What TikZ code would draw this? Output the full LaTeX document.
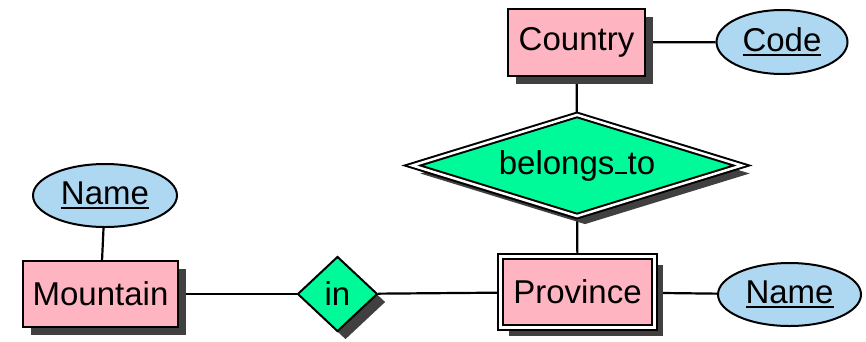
\documentclass[tikz,border=0pt]{standalone}
\usepackage{fontspec}
\setmainfont{Liberation Sans}
\usetikzlibrary{shapes.geometric,shadows,backgrounds}
\definecolor{entpink}{RGB}{255,180,193}
\definecolor{attblue}{RGB}{174,216,242}
\definecolor{relgreen}{RGB}{0,250,154}
\definecolor{shadowgray}{RGB}{64,64,64}
\newcommand\keyul[1]{\setbox0\hbox{#1}\rlap{\rule[-4.5pt]{\wd0}{1.8pt}}\box0}
\newcommand\ulbar{\kern0.02em\rule{0.36em}{0.06em}\kern0.02em}
\begin{document}
\begin{tikzpicture}[x=1pt,y=-1pt,
  base/.style={draw=black, line width=2pt, inner sep=0pt, font=\fontsize{33}{39}\selectfont},
  shade/.style={drop shadow={shadow xshift=8pt,shadow yshift=-8pt,fill=shadowgray,opacity=1}},
  entity/.style={base, rectangle, fill=entpink, shade},
  weakentity/.style={entity, double, double distance=2.5pt, line width=2pt},
  attr/.style={base, ellipse, fill=attblue},
  rel/.style={base, diamond, fill=relgreen, shade},
  weakrel/.style={rel, double, double distance=2.5pt, line width=2pt},
  conn/.style={line width=2.2pt}]
\useasboundingbox (0,0) rectangle (866,341);
\node[entity, minimum width=137pt, minimum height=67pt] (country) at (576.5,42.5) {Country};
\node[attr, minimum width=131pt, minimum height=64pt] (code) at (782,42) {\keyul{Code}};
\node[weakrel, aspect=3.3, minimum width=330pt, minimum height=102pt] (belongs) at (577,165.5) {belongs\ulbar to};
\node[weakentity, minimum width=154pt, minimum height=71pt] (province) at (577.5,292) {Province};
\node[attr, minimum width=143pt, minimum height=63pt] (pname) at (789.5,294.5) {\keyul{Name}};
\node[entity, minimum width=155pt, minimum height=66pt] (mountain) at (100.5,294) {Mountain};
\node[attr, minimum width=144pt, minimum height=63pt] (mname) at (105,195.5) {\keyul{Name}};
\node[rel, minimum width=80pt, minimum height=75pt] (in) at (337.5,294) {in};
\begin{scope}[on background layer]
\draw[conn] (country) -- (code);
\draw[conn] (country) -- (belongs);
\draw[conn] (belongs) -- (province);
\draw[conn] (mountain) -- (in);
\draw[conn] (in) -- (province);
\draw[conn] (province) -- (pname);
\draw[conn] (mname) -- (mountain);
\end{scope}
\end{tikzpicture}
\end{document}
